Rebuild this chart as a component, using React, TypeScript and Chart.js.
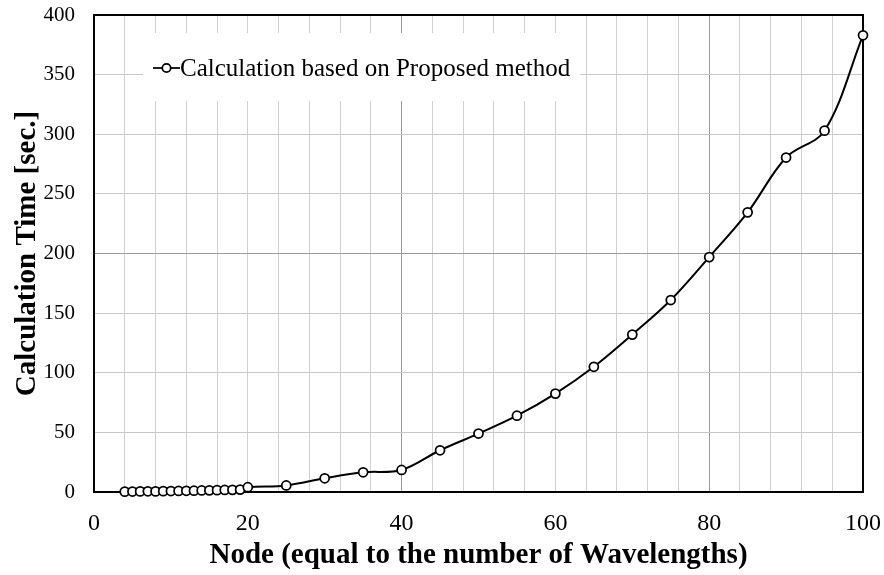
import React, { useEffect, useRef } from "react";
import { Chart, registerables } from "chart.js";

Chart.register(...registerables);

const nodes = [4, 5, 6, 7, 8, 9, 10, 11, 12, 13, 14, 15, 16, 17, 18, 19, 20, 25, 30, 35, 40, 45, 50, 55, 60, 65, 70, 75, 80, 85, 90, 95, 100];
const calcTime = [0.3, 0.4, 0.5, 0.6, 0.5, 0.7, 0.8, 0.9, 1.0, 1.1, 1.3, 1.4, 1.5, 1.7, 1.8, 2.0, 4.0, 5.5, 11.5, 16.5, 18.5, 35, 49, 64, 82.5, 105, 132, 161, 197, 234.5, 280.5, 303, 383];
const seriesLabel = "Calculation based on Proposed method";
const xTitle = "Node (equal to the number of Wavelengths)";
const yTitle = "Calculation Time [sec.]";

const FONT = "'Liberation Serif', 'Times New Roman', serif";

const framePlugin = {
  id: "frameAndLegend",
  beforeDatasetsDraw(chart: any) {
    const { ctx, chartArea } = chart;
    const { left, right, top, bottom } = chartArea;
    ctx.save();
    // legend box
    ctx.font = `25px ${FONT}`;
    const tw = ctx.measureText(seriesLabel).width;
    const bx = 143;
    const by = 33;
    const bw = 180 - bx + tw + 10;
    const bh = 68;
    ctx.fillStyle = "#ffffff";
    ctx.fillRect(bx, by, bw, bh);
    const ly = 68;
    ctx.strokeStyle = "#000";
    ctx.lineWidth = 1.75;
    ctx.beginPath();
    ctx.moveTo(153, ly);
    ctx.lineTo(180, ly);
    ctx.stroke();
    ctx.beginPath();
    ctx.arc(166.5, ly, 4.2, 0, Math.PI * 2);
    ctx.fillStyle = "#fff";
    ctx.fill();
    ctx.stroke();
    ctx.fillStyle = "#000";
    ctx.textBaseline = "middle";
    ctx.textAlign = "left";
    ctx.fillText(seriesLabel, 180, ly + 1);
    // frame
    ctx.strokeStyle = "#000";
    ctx.lineWidth = 2;
    ctx.strokeRect(left, top, right - left, bottom - top);
    ctx.restore();
  },
};

export default function App() {
  const ref = useRef<HTMLCanvasElement | null>(null);
  useEffect(() => {
    if (!ref.current) return;
    const chart = new Chart(ref.current, {
      type: "line",
      data: {
        datasets: [
          {
            label: seriesLabel,
            data: nodes.map((x, i) => ({ x, y: calcTime[i] })),
            borderColor: "#000",
            borderWidth: 2,
            backgroundColor: "#fff",
            pointBackgroundColor: "#fff",
            pointBorderColor: "#000",
            pointBorderWidth: 1.75,
            pointRadius: 4.5,
            tension: 0.35,
            clip: false as any,
          },
        ],
      },
      options: {
        animation: false,
        responsive: true,
        maintainAspectRatio: false,
        layout: { padding: { top: 15, right: 21, left: 0, bottom: 0 } },
        plugins: { legend: { display: false }, tooltip: { enabled: false } },
        scales: {
          x: {
            type: "linear",
            min: 0,
            max: 100,
            afterFit(scale: any) {
              scale.height = 83;
              scale.paddingLeft = 0;
              scale.paddingRight = 0;
            },
            ticks: {
              stepSize: 4,
              autoSkip: false,
              maxRotation: 0,
              padding: 17,
              color: "#000",
              font: { family: FONT, size: 24 },
              callback: (v: any) => (Number(v) % 20 === 0 ? String(v) : ""),
            },
            grid: {
              drawTicks: false,
              lineWidth: 1,
              color: (c: any) => (c.tick && (c.tick.value === 40 || c.tick.value === 80) ? "#9a9a9a" : "#d0d0d0"),
            },
            border: { display: true, color: "#000", width: 2 },
            title: {
              display: true,
              text: xTitle,
              color: "#000",
              font: { family: FONT, size: 29, weight: "bold" },
              padding: { top: 0, bottom: 2 },
            },
          },
          y: {
            type: "linear",
            min: 0,
            max: 400,
            afterFit(scale: any) {
              scale.width = 94;
              scale.paddingTop = 0;
              scale.paddingBottom = 0;
            },
            ticks: {
              stepSize: 50,
              padding: 19,
              color: "#000",
              font: { family: FONT, size: 21 },
            },
            grid: {
              drawTicks: false,
              lineWidth: 1,
              color: (c: any) => (c.tick && c.tick.value === 200 ? "#9a9a9a" : "#c8c8c8"),
            },
            border: { display: true, color: "#000", width: 2 },
            title: {
              display: true,
              text: yTitle,
              color: "#000",
              font: { family: FONT, size: 29, weight: "bold" },
              padding: { top: 10, bottom: 0 },
            },
          },
        },
      },
      plugins: [framePlugin],
    });
    return () => chart.destroy();
  }, []);
  return (
    <div style={{ position: "absolute", left: 0, top: 0, width: 884, height: 575 }}>
      <canvas ref={ref} />
    </div>
  );
}
